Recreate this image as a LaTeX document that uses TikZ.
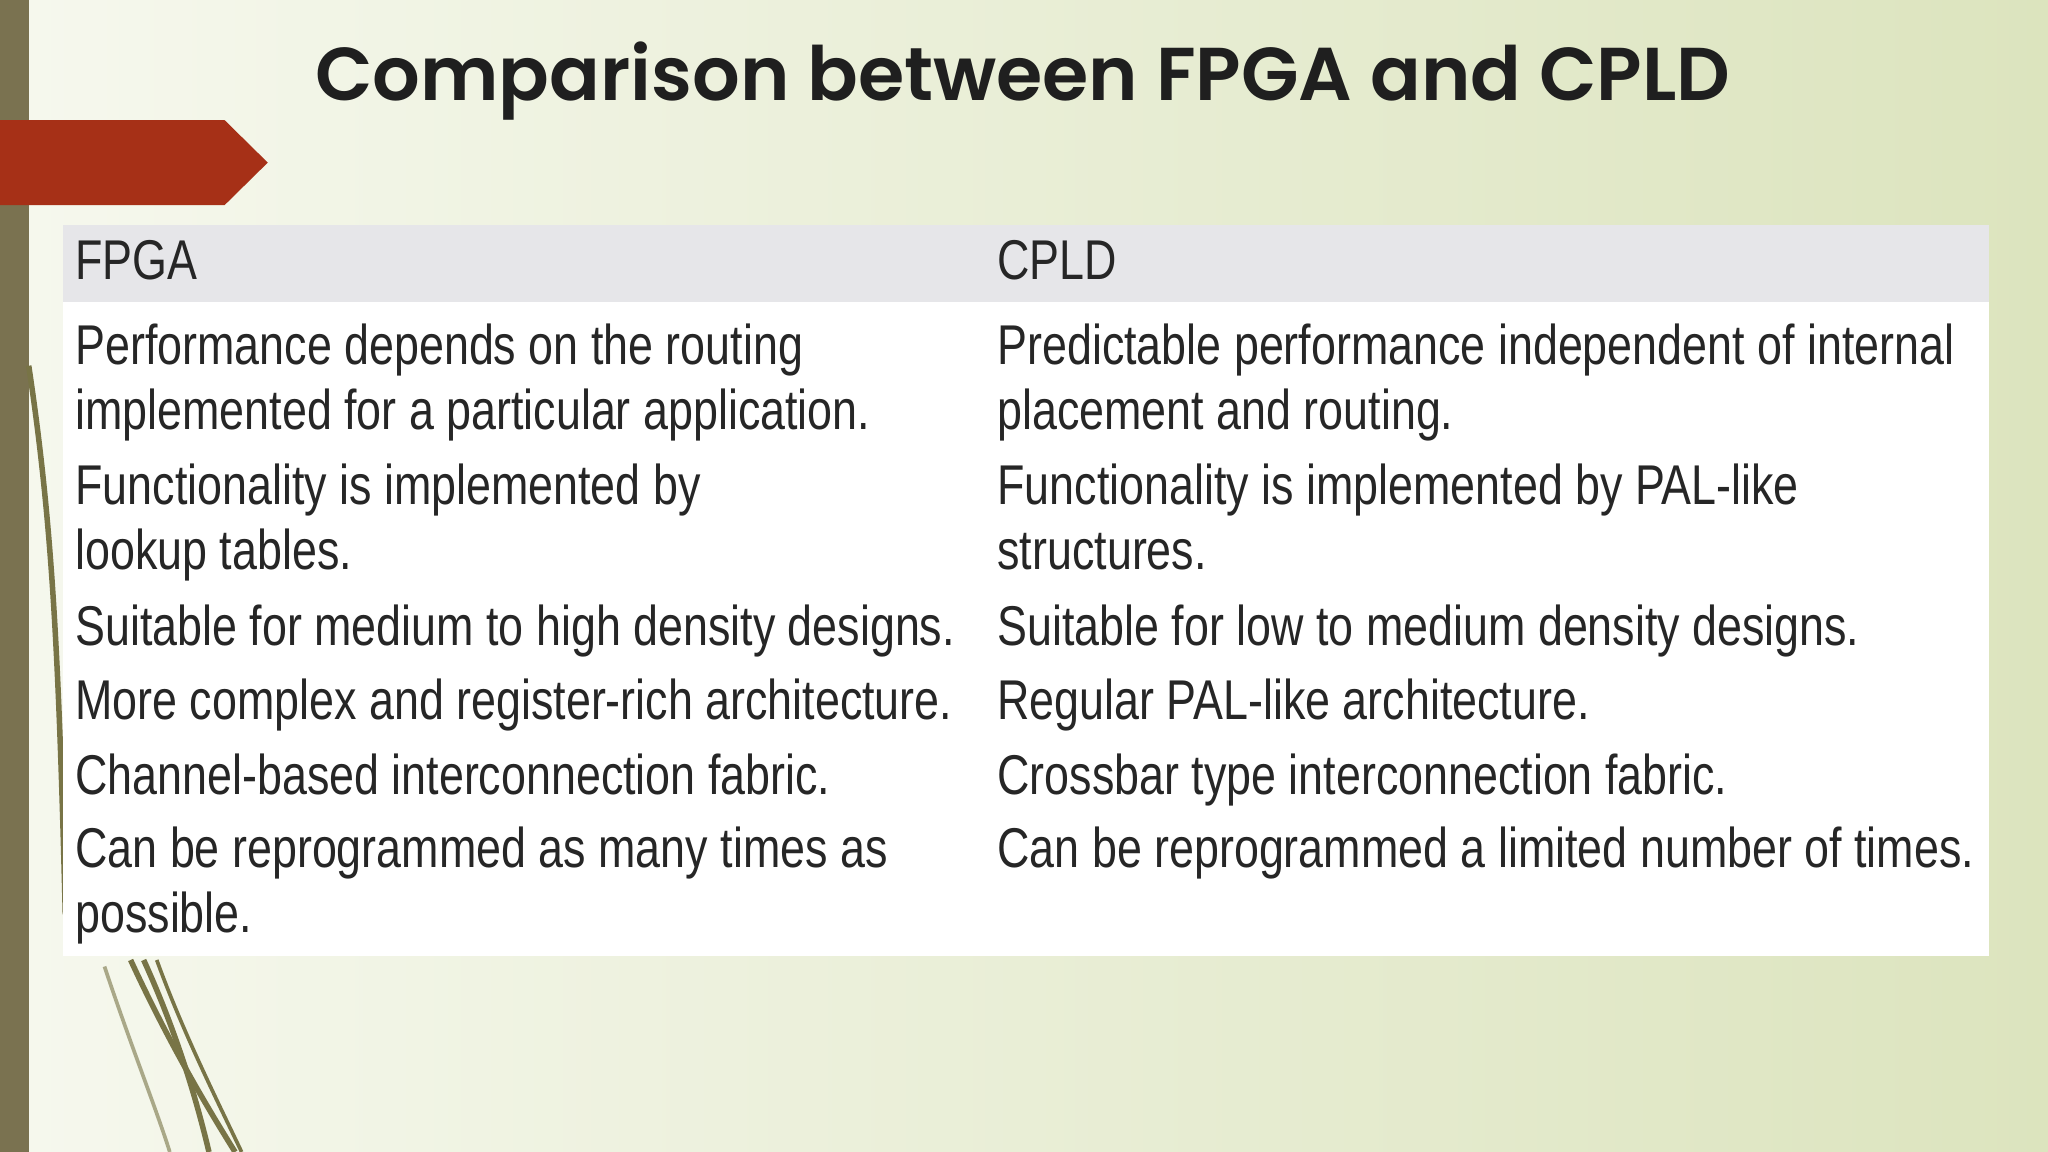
\documentclass[tikz,border=0pt]{standalone}
\usepackage{fontspec}
\setmainfont{Liberation Sans}
\newfontfamily\bodyfont[FakeStretch=0.80]{Liberation Sans}
\newfontfamily\titlefont{Poppins SemiBold}
\definecolor{bgR}{RGB}{220,228,190}
\definecolor{bgL}{RGB}{246,248,238}
\definecolor{barc}{RGB}{122,114,80}
\definecolor{linec}{RGB}{120,116,70}
\definecolor{redc}{RGB}{166,48,23}
\definecolor{headc}{RGB}{230,230,233}
\begin{document}
\begin{tikzpicture}[x=0.01cm,y=-0.01cm,
  cell/.style={anchor=base west,inner sep=0pt,font=\bodyfont\fontsize{12.2pt}{14pt}\selectfont,text=black!85}]
\useasboundingbox (0,0) rectangle (1568,882);
\shade[left color=bgL,right color=bgR] (0,0) rectangle (1568,882);
\fill[barc] (0,0) rectangle (22,882);
\begin{scope}[draw=linec,line width=1.2pt]
\draw (22,280) .. controls (40,400) and (45,500) .. (50,700);
\draw (100,735) .. controls (130,800) and (160,850) .. (180,882);
\draw (110,735) .. controls (135,790) and (150,840) .. (160,882);
\draw[line width=0.8pt] (120,735) .. controls (140,790) and (165,840) .. (185,882);
\draw[line width=0.8pt,opacity=0.6] (80,740) .. controls (100,800) and (120,850) .. (130,882);
\end{scope}
\fill[redc] (0,92) -- (172,92) -- (205,124.5) -- (172,157) -- (0,157) -- cycle;
\node[font=\titlefont\fontsize{16.3pt}{20pt}\selectfont,text=black!88] (title) at (783,62) {Comparison between FPGA and CPLD};
\fill[white] (48,172) rectangle (1523,732);
\fill[headc] (48,172) rectangle (1523,231);
\node[cell] (h1) at (57,214) {FPGA};
\node[cell] (h2) at (763,214) {CPLD};
\node[cell] (a1) at (57,279) {Performance depends on the routing};
\node[cell] (a2) at (57,329) {implemented for a particular application.};
\node[cell] (b1) at (763,279) {Predictable performance independent of internal};
\node[cell] (b2) at (763,329) {placement and routing.};
\node[cell] (a3) at (57,386) {Functionality is implemented by};
\node[cell] (a4) at (57,436) {lookup tables.};
\node[cell] (b3) at (763,386) {Functionality is implemented by PAL-like};
\node[cell] (b4) at (763,436) {structures.};
\node[cell] (a5) at (57,494) {Suitable for medium to high density designs.};
\node[cell] (b5) at (763,494) {Suitable for low to medium density designs.};
\node[cell] (a6) at (57,551) {More complex and register-rich architecture.};
\node[cell] (b6) at (763,551) {Regular PAL-like architecture.};
\node[cell] (a7) at (57,608) {Channel-based interconnection fabric.};
\node[cell] (b7) at (763,608) {Crossbar type interconnection fabric.};
\node[cell] (a8) at (57,664) {Can be reprogrammed as many times as};
\node[cell] (a9) at (57,714) {possible.};
\node[cell] (b8) at (763,664) {Can be reprogrammed a limited number of times.};
\end{tikzpicture}
\end{document}
